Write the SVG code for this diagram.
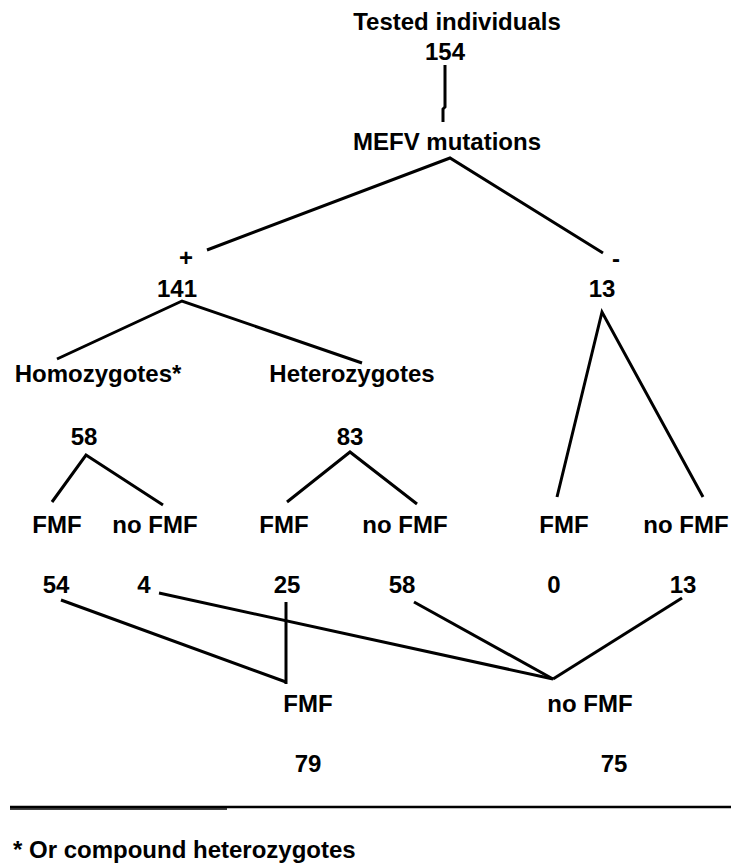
<svg xmlns="http://www.w3.org/2000/svg" width="731" height="867" viewBox="0 0 731 867">
<style>
text { font-family: "Liberation Sans", Arial, Helvetica, sans-serif; font-weight: bold; font-size: 24px; text-anchor: middle; fill: #000; }
.c { stroke: #000; stroke-width: 3; fill: none; stroke-linejoin: miter; }
.rule { stroke: #000; fill: none; }
</style>
<rect width="731" height="867" fill="#fff"/>
<g id="connectors">
  <path class="c" d="M445,65 L445,107 L443,109 L443,122"/>
  <path class="c" d="M207,250 L450,158 L603,253"/>
  <path class="c" d="M57,359 L182,301 L362,363"/>
  <path class="c" d="M557,497 L602,312 L703,497"/>
  <path class="c" d="M52,502 L86,455 L163,505"/>
  <path class="c" d="M287,502 L350,452 L417,504"/>
  <path class="c" d="M61,600 L286,682"/>
  <path class="c" d="M286,602 L286,684"/>
  <path class="c" d="M159,593 L553,679"/>
  <path class="c" d="M414,602 L553,679"/>
  <path class="c" d="M682,598 L553,679"/>
</g>
<g id="n_root">
  <text x="457" y="30">Tested individuals</text>
  <text x="445" y="60">154</text>
</g>
<g id="n_mefv">
  <text x="447" y="150">MEFV mutations</text>
</g>
<g id="n_pos">
  <text x="186" y="266">+</text>
  <text x="177" y="297">141</text>
</g>
<g id="n_neg">
  <text x="616" y="267">-</text>
  <text x="602" y="297">13</text>
</g>
<g id="n_homo">
  <text x="98" y="382">Homozygotes*</text>
  <text x="84" y="445">58</text>
</g>
<g id="n_het">
  <text x="352" y="382">Heterozygotes</text>
  <text x="350" y="445">83</text>
</g>
<g id="n_homo_fmf">
  <text x="57" y="533">FMF</text>
  <text x="56" y="593">54</text>
</g>
<g id="n_homo_nofmf">
  <text x="155" y="533">no FMF</text>
  <text x="144" y="593">4</text>
</g>
<g id="n_het_fmf">
  <text x="284" y="533">FMF</text>
  <text x="287" y="593">25</text>
</g>
<g id="n_het_nofmf">
  <text x="405" y="533">no FMF</text>
  <text x="402" y="593">58</text>
</g>
<g id="n_neg_fmf">
  <text x="564" y="533">FMF</text>
  <text x="554" y="593">0</text>
</g>
<g id="n_neg_nofmf">
  <text x="686" y="533">no FMF</text>
  <text x="683" y="593">13</text>
</g>
<g id="n_total_fmf">
  <text x="308" y="712">FMF</text>
  <text x="308" y="772">79</text>
</g>
<g id="n_total_nofmf">
  <text x="590" y="712">no FMF</text>
  <text x="614" y="772">75</text>
</g>
<g id="footnote">
  <line class="rule" x1="10" y1="807" x2="731" y2="807" stroke-width="2.5"/>
  <line class="rule" x1="10" y1="809" x2="227" y2="809" stroke-width="1.5"/>
  <text x="13" y="858" style="text-anchor:start">* Or compound heterozygotes</text>
</g>
</svg>
